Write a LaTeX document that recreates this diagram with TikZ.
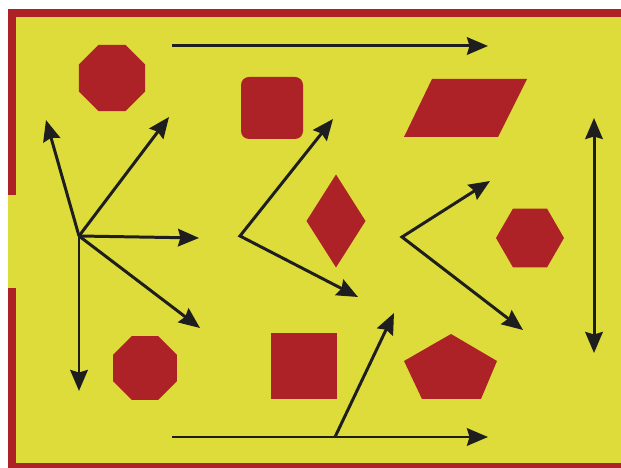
\documentclass[tikz,border=0pt]{standalone}
\usepackage{xcolor}
\usepackage{tikz}
\usetikzlibrary{arrows.meta,positioning,shapes.geometric}
\definecolor{amarillo}{HTML}{DEDC3B}
\definecolor{rojo}{HTML}{AD2226}
\definecolor{negro}{HTML}{1E1E1E}

\begin{document}
\begin{tikzpicture}[>={Stealth[length=4.2mm,width=3.5mm,inset=0.5mm]}, fig/.style={fill=rojo,inner sep=0pt,outer sep=0pt}, arr/.style={->,line width=1.7pt,color=negro}, marco/.style={draw=rojo,line width=0.16cm}]
\useasboundingbox (0,0) rectangle (12.42,9.36);
\fill[amarillo] (0.16,0) rectangle (12.42,9.18);
\draw[marco] (12.42,9.10) -- (0.24,9.10) -- (0.24,5.46); \draw[marco] (0.24,3.60) -- (0.24,0.02) -- (12.42,0.02);
% figuras
\node[fig,regular polygon,regular polygon sides=8,minimum size=1.43cm] (octa) at (2.24,7.80) {};
\node[fig,regular polygon,regular polygon sides=8,minimum size=1.38cm] (octb) at (2.90,2.00) {};
\node[fig,rounded corners=0.16cm,minimum size=1.24cm] (redondo) at (5.44,7.20) {};
\node[fig,minimum size=1.32cm] (cuadrado) at (6.08,2.04) {};
\node[fig,diamond,minimum width=1.18cm,minimum height=1.86cm] (rombo) at (6.72,4.94) {};
\node[fig,regular polygon,regular polygon sides=6,minimum size=1.36cm] (hexa) at (10.60,4.60) {};
\fill[rojo] (8.08,6.62) -- (9.96,6.62) -- (10.54,7.78) -- (8.64,7.78) -- cycle;
\fill[rojo] (9.02,2.68) -- (9.94,2.14) -- (9.62,1.38) -- (8.44,1.38) -- (8.08,2.14) -- cycle;
% puntos
\coordinate (k) at (1.58,4.64); \coordinate (k1) at (0.92,6.96); \coordinate (k2) at (3.38,7.02); \coordinate (k3) at (3.98,4.60); \coordinate (k4) at (4.00,2.80); \coordinate (k5) at (1.58,1.54);
\coordinate (v1) at (4.80,4.64); \coordinate (v1a) at (6.66,6.98); \coordinate (v1b) at (7.16,3.42);
\coordinate (v2) at (8.04,4.62); \coordinate (v2a) at (9.80,5.74); \coordinate (v2b) at (10.46,2.76);
\coordinate (a1) at (3.44,8.44); \coordinate (a2) at (9.76,8.44);
\coordinate (b1) at (3.44,0.62); \coordinate (b2) at (9.76,0.62); \coordinate (pie) at (6.70,0.62); \coordinate (b3) at (7.88,3.10);
\coordinate (d1) at (11.88,7.00); \coordinate (d2) at (11.88,2.30);
% flechas
\draw[arr] (k)--(k1); \draw[arr] (k)--(k2); \draw[arr] (k)--(k3); \draw[arr] (k)--(k4); \draw[arr] (k)--(k5);
\draw[arr,<->] (v1a)--(v1)--(v1b); \draw[arr,<->] (v2a)--(v2)--(v2b);
\draw[arr] (a1)--(a2); \draw[arr] (b1)--(b2); \draw[arr] (pie)--(b3);
\draw[arr,<->] (d1)--(d2);
\end{tikzpicture}
\end{document}
